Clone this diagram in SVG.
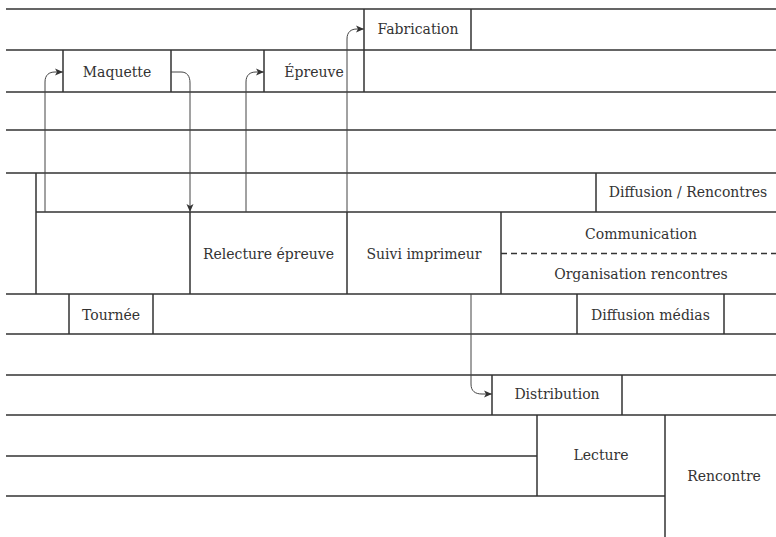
<svg xmlns="http://www.w3.org/2000/svg" width="776" height="537" viewBox="0 0 776 537">
<style>
.ln{stroke:#333;stroke-width:1.5;fill:none}
.cn{stroke:#444;stroke-width:1;fill:none;marker-end:url(#ah)}
.dash{stroke:#333;stroke-width:1.5;stroke-dasharray:6 4;fill:none}
text{font-family:"DejaVu Serif","Liberation Serif",serif;font-size:14px;fill:#333;text-anchor:middle}
</style>
<defs>
<marker id="ah" markerUnits="userSpaceOnUse" markerWidth="9" markerHeight="8" refX="8" refY="4" orient="auto">
<path d="M0,0.5 L8,4 L0,7.5 L2,4 z" fill="#333"/>
</marker>
</defs>
<rect width="776" height="537" fill="#fff"/>
<g id="grid">
<path class="ln" d="M6,9H776 M6,50H776 M6,92H776 M6,130H776 M6,173H776 M36,212H776 M6,294H776 M6,334H776 M6,375H776 M6,415H776 M6,456H537 M6,496H665"/>
<path class="ln" d="M36,173V294 M596,173V212 M190,212V294 M347,212V294 M501,212V294 M364,9V92"/>
<path class="dash" d="M501,253.5H776"/>
</g>
<g id="fabrication"><path class="ln" d="M471,9V50"/><text x="418" y="34">Fabrication</text></g>
<g id="maquette"><path class="ln" d="M63,50V92 M171,50V92"/><text x="117" y="77">Maquette</text></g>
<g id="epreuve"><path class="ln" d="M264,50V92"/><text x="314" y="77">Épreuve</text></g>
<g id="diffusion-rencontres"><text x="688" y="197">Diffusion / Rencontres</text></g>
<g id="relecture"><text x="268.5" y="259">Relecture épreuve</text></g>
<g id="suivi"><text x="424" y="259">Suivi imprimeur</text></g>
<g id="communication"><text x="641" y="239">Communication</text></g>
<g id="organisation"><text x="641" y="279">Organisation rencontres</text></g>
<g id="tournee"><path class="ln" d="M69,294V334 M153,294V334"/><text x="111" y="320">Tournée</text></g>
<g id="diffusion-medias"><path class="ln" d="M577,294V334 M724,294V334"/><text x="650.5" y="320">Diffusion médias</text></g>
<g id="distribution"><path class="ln" d="M492,375V415 M622,375V415"/><text x="557" y="399">Distribution</text></g>
<g id="lecture"><path class="ln" d="M537,415V496"/><text x="601" y="460">Lecture</text></g>
<g id="rencontre"><path class="ln" d="M665,415V537"/><text x="724" y="481">Rencontre</text></g>
<g id="connectors">
<path class="cn" d="M45,212V82C45,75 49,72 55,72H63"/>
<path class="cn" d="M171,72H181C187,72 190,76 190,83V212"/>
<path class="cn" d="M246,212V82C246,75 250,72 256,72H264"/>
<path class="cn" d="M347,212V39C347,32 351,29 357,29H364"/>
<path class="cn" d="M471,294V384C471,391 475,394 482,394H492"/>
</g>
</svg>
